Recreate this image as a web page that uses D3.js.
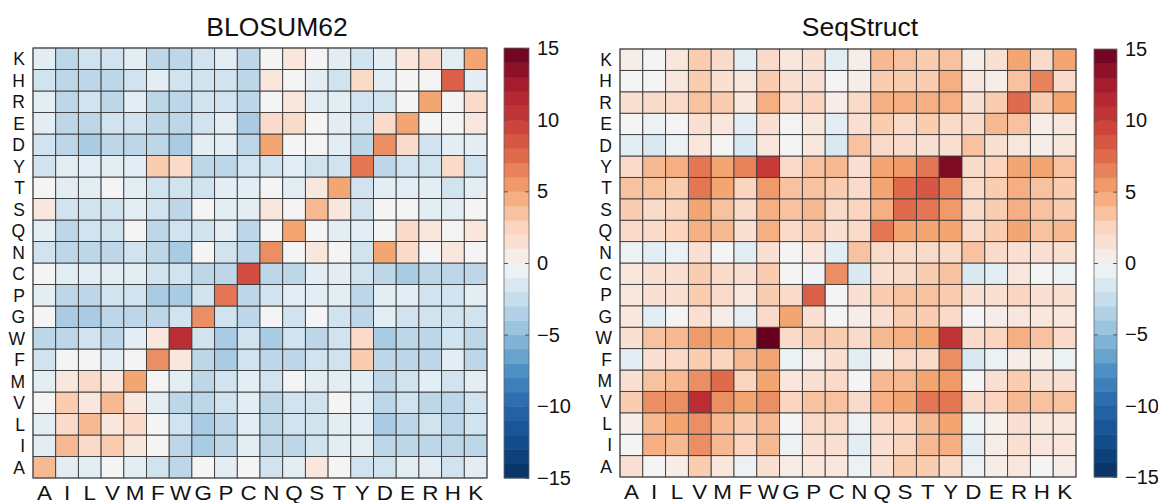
<!DOCTYPE html>
<html>
<head>
<meta charset="utf-8">
<script src="https://cdn.jsdelivr.net/npm/d3@7"></script>
<style>
  body { margin: 0; background: #fff; }
  text { font-family: "Liberation Sans", Arial, sans-serif; fill: #111; }
</style>
</head>
<body>
<svg id="chart" width="1158" height="503"></svg>
<script>
// residue order, used for both axes (y goes bottom A -> top K)
const aminos = ["A", "I", "L", "V", "M", "F", "W", "G", "P", "C", "N", "Q", "S", "T", "Y", "D", "E", "R", "H", "K"];
const cbTicks = [15, 10, 5, 0, -5, -10, -15];

// rows A..K (bottom to top), columns A..K
const blosum62 = [
  [4, -1, -1, 0, -1, -2, -3, 0, -1, 0, -2, -1, 1, 0, -2, -2, -1, -1, -2, -1],
  [-1, 4, 2, 3, 1, 0, -3, -4, -3, -1, -3, -3, -2, -1, -1, -3, -3, -3, -3, -3],
  [-1, 2, 4, 1, 2, 0, -2, -4, -3, -1, -3, -2, -2, -1, -1, -4, -3, -2, -3, -2],
  [0, 3, 1, 4, 1, -1, -3, -3, -2, -1, -3, -2, -2, 0, -1, -3, -2, -3, -3, -2],
  [-1, 1, 2, 1, 5, 0, -1, -3, -2, -1, -2, 0, -1, -1, -1, -3, -2, -1, -2, -1],
  [-2, 0, 0, -1, 0, 6, 1, -3, -4, -2, -3, -3, -2, -2, 3, -3, -3, -3, -1, -3],
  [-3, -3, -2, -3, -1, 1, 11, -2, -4, -2, -4, -2, -3, -2, 2, -4, -3, -3, -2, -3],
  [0, -4, -4, -3, -3, -3, -2, 6, -2, -3, 0, -2, 0, -2, -3, -1, -2, -2, -2, -2],
  [-1, -3, -3, -2, -2, -4, -4, -2, 7, -3, -2, -1, -1, -1, -3, -1, -1, -2, -2, -1],
  [0, -1, -1, -1, -1, -2, -2, -3, -3, 9, -3, -3, -1, -1, -2, -3, -4, -3, -3, -3],
  [-2, -3, -3, -3, -2, -3, -4, 0, -2, -3, 6, 0, 1, 0, -2, 5, 2, 0, 1, 0],
  [-1, -3, -2, -2, 0, -3, -2, -2, -1, -3, 0, 5, 0, -1, -1, 0, 2, 1, 0, 1],
  [1, -2, -2, -2, -1, -2, -3, 0, -1, -1, 1, 0, 4, 1, -2, 0, 0, -1, -1, 0],
  [0, -1, -1, 0, -1, -2, -2, -2, -1, -1, 0, -1, 1, 5, -2, -1, -1, -1, -2, -1],
  [-2, -1, -1, -1, -1, 3, 2, -3, -3, -2, -2, -1, -2, -2, 7, -3, -2, -2, 2, -2],
  [-2, -3, -4, -3, -3, -3, -4, -1, -1, -3, 5, 0, 0, -1, -3, 6, 2, -2, -1, -1],
  [-1, -3, -3, -2, -2, -3, -3, -2, -1, -4, 2, 2, 0, -1, -2, 2, 5, 0, 0, 1],
  [-1, -3, -2, -3, -1, -3, -3, -2, -2, -3, 0, 1, -1, -1, -2, -2, 0, 5, 0, 2],
  [-2, -3, -3, -3, -2, -1, -2, -2, -2, -3, 1, 0, -1, -2, 2, -1, 0, 0, 8, -1],
  [-1, -3, -2, -2, -1, -3, -3, -2, -1, -3, 0, 1, 0, -1, -2, -1, 1, 2, -1, 5]
];

const seqStruct = [
  [1.5, 0, 0.5, 3, 1, -0.5, 1.5, 0.5, 1, 1, -0.5, 1.5, 3, 3, 2, -0.5, 0.5, 1, 0, 0.5],
  [0, 4.5, 4, 6, 4, 2.5, 4, -0.5, 1.5, 1.5, -1, 1.5, 2.5, 4, 4.5, -1, 0.5, 1.5, 1, 1],
  [0.5, 4, 5, 6, 4, 3, 4, 0, 2, 2, -0.5, 2, 2.5, 4, 5, -0.5, 0.3, 1.5, 1, 1],
  [3, 6, 6, 11, 6, 5, 6, 2.5, 3.5, 3.5, 2, 4.5, 5, 7, 7, 2, 2.5, 4, 3.5, 3.5],
  [1.5, 3.5, 4, 6, 7.5, 2.5, 5, 1, 1.5, 2, 0, 4, 4, 5, 5.5, 0, 1.5, 3, 1.5, 1.5],
  [-1, 1.5, 2, 3, 2.5, 4, 5, -0.5, 0.5, 1.5, -1, 0.5, 2, 2, 6, -1.5, -0.5, 0.5, 0.5, -0.5],
  [1.5, 3.5, 4, 5.5, 5, 4.5, 15, 2, 3, 3, 2, 4, 4.5, 5, 10.5, 2, 2.5, 4.5, 3.5, 2],
  [1, -1, 0, 1.5, 0.5, -0.8, 2, 5, 1.5, 0, 0.5, 1.5, 3, 3, 2, 0, 0.5, 1, 1, 1],
  [1, 1.5, 1.5, 3, 2, 1, 3, 2, 8, 0, 1.5, 3, 3.5, 3.5, 3, 1.5, 1.5, 2.5, 1.5, 1.5],
  [1, 1.5, 1.5, 3, 2, 1.5, 3, 0, -0.2, 6, -1.5, 1.5, 2, 3, 3.5, -1.5, -1, 1, 0, -0.5],
  [-0.5, -1, -0.5, 1.5, 0, -1, 1.5, 0, 1, -1, 3.5, 2, 2, 2, 2, 3.5, 2, 1.5, 1.5, 1.5],
  [2, 2, 2.5, 4.5, 4, 1.5, 4.5, 2, 3, 1.5, 2, 7, 5, 5, 5, 2, 3, 5, 3.5, 4],
  [3, 2, 2.5, 5, 3.5, 2, 4.5, 3.5, 4, 2, 2.5, 4.5, 7.5, 7, 5.5, 2, 3, 4.5, 3.5, 3],
  [3.5, 3.5, 3, 7, 5, 2.5, 5.5, 3.5, 3.5, 3, 2, 5, 7.5, 8.5, 6.5, 2, 3, 4.5, 3.5, 3],
  [2, 4, 4.5, 7, 5, 6.5, 10, 2, 3.5, 4, 1.5, 5, 5.5, 7, 14, 2, 2.5, 5, 5, 3.5],
  [-1, -1.5, -0.5, 1, 0, -1.5, 1, 0, 1, -1.5, 3.5, 2, 2, 1.5, 1.5, 3.5, 1.5, 1, 0.5, 1],
  [0, -0.5, 0, 1.5, 1, -1, 1.5, 0, 1, -1, 1.5, 3, 2, 3, 2, 2, 4, 3.5, 0.5, 1],
  [1.5, 2, 2, 3.5, 3, 1, 4.5, 2, 2.5, 0.5, 2, 4.5, 4.5, 4.5, 4.5, 1.5, 3, 7.5, 3, 5],
  [0, 0, 1, 3, 1.5, 1, 3, 1.5, 1.5, 0, 0.5, 3, 3, 3, 4.5, 1, 0.5, 3.5, 6.5, 2],
  [0.5, 0, 1, 3, 2, -1, 2, 1, 1.5, -1, 0.5, 4, 3.5, 3, 3.5, 0.5, 1.5, 5, 2, 5]
];

// diverging colormap, blue (low) - white - red (high)
const cmapDomain = [-15, -12.5, -10, -7.5, -5, -4, -2, -1, 0, 1, 2.5, 5, 7.5, 10, 12.5, 15];
const cmapColors = ["#062f5f", "#134c8a", "#2466ab", "#4f90c4", "#8dbcdb", "#a9cbe3", "#d0e3ef", "#e3edf4",
  "#f4f4f4", "#f9e6dc", "#fbd5c0", "#f4a672", "#e06a4c", "#c83a37", "#a51c2e", "#67001f"];
const color = d3.scaleLinear().domain(cmapDomain).range(cmapColors).clamp(true);

const svg = d3.select('#chart');

function drawPanel(cfg) {
  const g = svg.append('g').attr('transform', `translate(${cfg.left},${cfg.top})`);
  const x = d3.scaleBand().domain(aminos).range([0, cfg.width]);
  const y = d3.scaleBand().domain(aminos).range([cfg.height, 0]);

  const cells = [];
  cfg.matrix.forEach((row, i) => row.forEach((v, j) => cells.push({ row: aminos[i], col: aminos[j], v: v })));

  g.selectAll('rect.cell')
    .data(cells)
    .enter().append('rect')
    .attr('class', 'cell')
    .attr('x', d => x(d.col))
    .attr('y', d => y(d.row))
    .attr('width', x.bandwidth())
    .attr('height', y.bandwidth())
    .attr('fill', d => color(d.v))
    .attr('stroke', '#3a3a3a')
    .attr('stroke-width', 0.9);

  g.append('rect')
    .attr('width', cfg.width).attr('height', cfg.height)
    .attr('fill', 'none').attr('stroke', '#555').attr('stroke-width', 1);

  // x labels
  g.selectAll('text.xl')
    .data(aminos)
    .enter().append('text')
    .attr('class', 'xl')
    .attr('text-anchor', 'middle')
    .attr('transform', d => `translate(${x(d) + x.bandwidth() / 2},${cfg.height + 22}) scale(1.12,1)`)
    .style('font-size', '20px')
    .text(d => d);

  // y labels
  g.selectAll('text.yl')
    .data(aminos)
    .enter().append('text')
    .attr('class', 'yl')
    .attr('text-anchor', 'end')
    .attr('x', -8)
    .attr('y', d => y(d) + y.bandwidth() / 2)
    .attr('dy', '0.36em')
    .style('font-size', '17.5px')
    .text(d => d);

  svg.append('text')
    .attr('x', cfg.titleX).attr('y', 36)
    .attr('text-anchor', 'middle')
    .style('font-size', '26.5px')
    .text(cfg.title);

  // colorbar
  const cb = svg.append('g').attr('transform', `translate(${cfg.cbLeft},${cfg.top})`);
  const cbScale = d3.scaleLinear().domain([-15, 15]).range([cfg.height, 0]);
  const bands = d3.range(-15, 15, 1);
  cb.selectAll('rect.band')
    .data(bands)
    .enter().append('rect')
    .attr('class', 'band')
    .attr('x', 0)
    .attr('y', d => cbScale(d + 1))
    .attr('width', cfg.cbWidth)
    .attr('height', d => cbScale(d) - cbScale(d + 1) + 0.5)
    .attr('fill', d => color(d + 0.5));
  cb.append('rect')
    .attr('width', cfg.cbWidth).attr('height', cfg.height)
    .attr('fill', 'none').attr('stroke', '#666').attr('stroke-width', 0.8);

  const axR = cb.append('g')
    .attr('transform', `translate(${cfg.cbWidth},0)`)
    .call(d3.axisRight(cbScale).tickValues(cbTicks).tickSizeInner(-4).tickSizeOuter(0).tickPadding(8));
  axR.select('.domain').remove();
  axR.selectAll('line').attr('stroke', '#555');
  axR.selectAll('text').style('font-size', '20px').attr('fill', '#111');

  const axL = cb.append('g')
    .call(d3.axisLeft(cbScale).tickValues(cbTicks.slice(1, -1)).tickSizeInner(-4).tickSizeOuter(0).tickFormat(''));
  axL.select('.domain').remove();
  axL.selectAll('line').attr('stroke', '#555');
}

drawPanel({ matrix: blosum62, title: 'BLOSUM62', left: 33, top: 48, width: 454, height: 430, titleX: 277, cbLeft: 504, cbWidth: 25 });
drawPanel({ matrix: seqStruct, title: 'SeqStruct', left: 620, top: 49, width: 456, height: 428, titleX: 860, cbLeft: 1094, cbWidth: 23 });
</script>
</body>
</html>
